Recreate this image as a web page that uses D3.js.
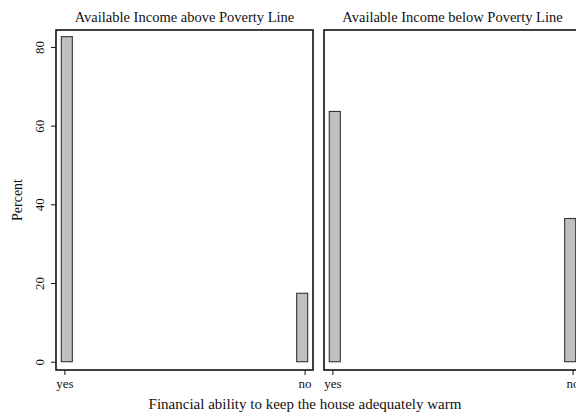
<!DOCTYPE html>
<html>
<head>
<meta charset="utf-8">
<script src="https://cdn.jsdelivr.net/npm/d3@7"></script>
<style>
  html, body { margin: 0; padding: 0; background: #fff; }
  svg { display: block; font-family: "Liberation Serif", "Times New Roman", serif; }
</style>
</head>
<body>
<svg id="chart" width="576" height="416"></svg>
<script>
// Share of households able to keep the house adequately warm, by poverty status
const panels = ["Available Income above Poverty Line", "Available Income below Poverty Line"];
const categories = ["yes", "no"];
const categoryCodes = [1, 2];
const percentAbove = [82.6, 17.4];
const percentBelow = [63.6, 36.4];
const yTicks = [0, 20, 40, 60, 80];
const yTitle = "Percent";
const xTitle = "Financial ability to keep the house adequately warm";

const seriesByPanel = [percentAbove, percentBelow];

const svg = d3.select("#chart");

// layout of the two panels
const panelTop = 30, panelBottom = 370;
const panelWidth = 257;
const panelLefts = [56, 324];

const y = d3.scaleLinear().domain([-2.1, 84.3]).range([panelBottom, panelTop]);

const barWidth = 0.046;   // in category units
const barInset = 0.01;    // bars pulled slightly toward the panel interior

panels.forEach((title, p) => {
  const left = panelLefts[p];
  const x = d3.scaleLinear().domain([0.965, 2.035]).range([left, left + panelWidth]);
  const g = svg.append("g");

  // bars
  const data = categoryCodes.map((c, i) => ({ code: c, label: categories[i], value: seriesByPanel[p][i] }));
  g.selectAll("rect.bar").data(data).enter().append("rect")
    .attr("class", "bar")
    .attr("x", d => {
      const center = d.code + (d.code === 1 ? barInset : -barInset);
      return x(center - barWidth / 2);
    })
    .attr("width", d => x(barWidth) - x(0))
    .attr("y", d => y(d.value))
    .attr("height", d => y(0) - y(d.value))
    .attr("fill", "#c0c0c0")
    .attr("stroke", "#333")
    .attr("stroke-width", 1.1);

  // panel frame
  g.append("rect")
    .attr("x", left).attr("y", panelTop)
    .attr("width", panelWidth).attr("height", panelBottom - panelTop)
    .attr("fill", "none").attr("stroke", "#111").attr("stroke-width", 1.6);

  // x axis ticks and labels
  const xAxis = d3.axisBottom(x).tickValues(categoryCodes)
    .tickFormat((d, i) => categories[i]).tickSize(5).tickPadding(4);
  const xa = g.append("g").attr("transform", `translate(0,${panelBottom})`).call(xAxis);
  xa.select(".domain").remove();
  xa.selectAll(".tick line").attr("stroke", "#111").attr("stroke-width", 1);
  xa.selectAll(".tick text").attr("font-family", "Liberation Serif, serif").attr("font-size", 13).attr("fill", "#111");

  // panel title
  g.append("text")
    .attr("x", left + panelWidth / 2).attr("y", 22)
    .attr("text-anchor", "middle").attr("font-size", 14.5).attr("fill", "#111")
    .text(title);

  // y axis only on first panel
  if (p === 0) {
    const yAxis = d3.axisLeft(y).tickValues(yTicks).tickSize(5).tickPadding(4);
    const ya = g.append("g").attr("transform", `translate(${left},0)`).call(yAxis);
    ya.select(".domain").remove();
    ya.selectAll(".tick line").attr("stroke", "#111").attr("stroke-width", 1);
    ya.selectAll(".tick text")
      .attr("font-family", "Liberation Serif, serif").attr("font-size", 13).attr("fill", "#111")
      .attr("x", null).attr("dy", null)
      .attr("text-anchor", "middle")
      .attr("transform", "translate(-12,0) rotate(-90)");
  }
});

// y title
svg.append("text")
  .attr("transform", `translate(22,${(panelTop + panelBottom) / 2}) rotate(-90)`)
  .attr("text-anchor", "middle").attr("font-size", 14).attr("fill", "#111")
  .text(yTitle);

// x title, centred under the plotted area
svg.append("text")
  .attr("x", 305).attr("y", 408.5)
  .attr("text-anchor", "middle").attr("font-size", 15).attr("fill", "#111")
  .text(xTitle);
</script>
</body>
</html>
